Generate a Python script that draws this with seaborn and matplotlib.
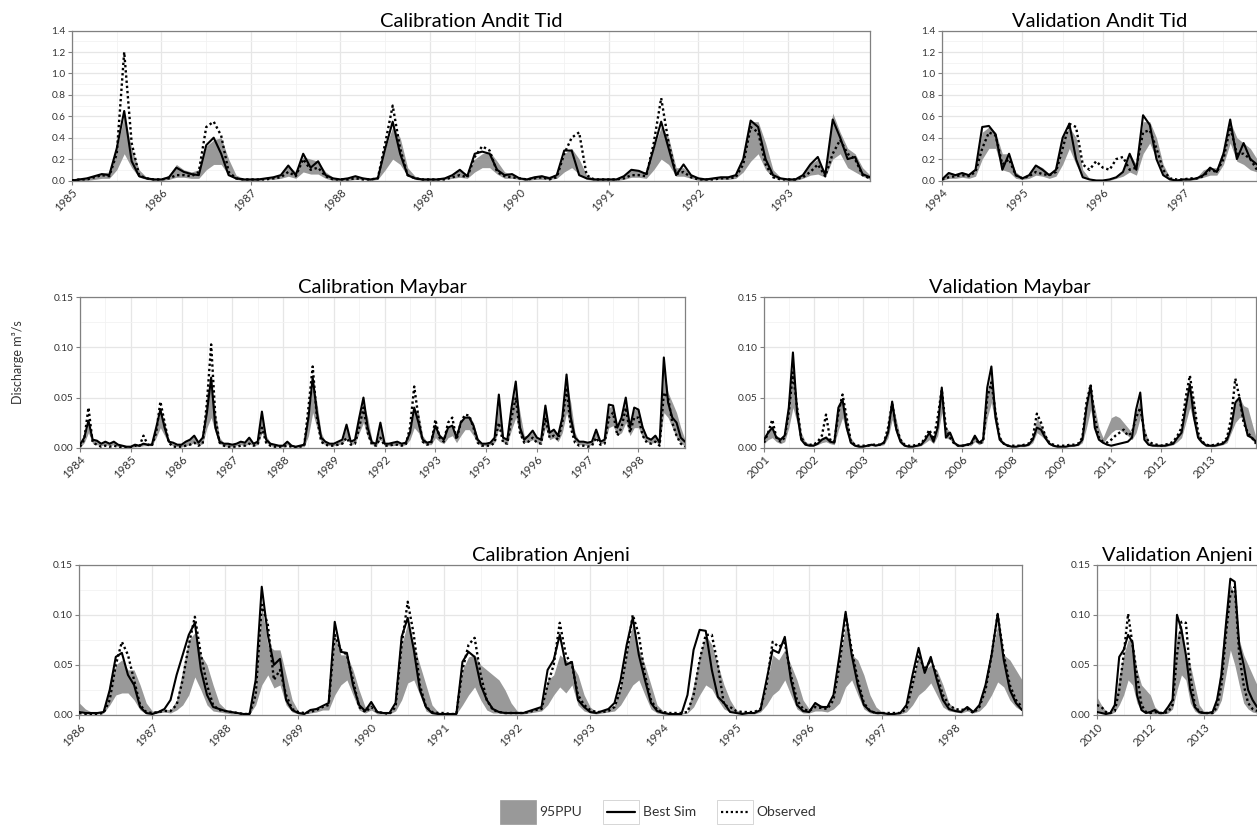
import numpy as np
import matplotlib
matplotlib.use("Agg")
import matplotlib.pyplot as plt
import seaborn as sns
from matplotlib.patches import Rectangle
from matplotlib.lines import Line2D
from matplotlib.legend_handler import HandlerBase
from matplotlib.ticker import MultipleLocator, FixedLocator, FormatStrFormatter

# ---------------- DATA (monthly discharge, m3/s) ----------------
# Calibration Andit Tid (1985-1993)
cal_andit_labels = ['1985', '1986', '1987', '1988', '1989', '1990', '1991', '1992', '1993']
cal_andit_sim = [
    0.00, 0.01, 0.02, 0.04, 0.06, 0.05, 0.30, 0.65, 0.18, 0.04, 0.02, 0.01,
    0.01, 0.03, 0.12, 0.08, 0.06, 0.05, 0.33, 0.40, 0.25, 0.05, 0.02, 0.01,
    0.01, 0.01, 0.02, 0.03, 0.05, 0.14, 0.05, 0.25, 0.12, 0.18, 0.05, 0.02,
    0.01, 0.02, 0.04, 0.02, 0.01, 0.02, 0.30, 0.55, 0.25, 0.05, 0.02, 0.01,
    0.01, 0.01, 0.02, 0.05, 0.10, 0.04, 0.25, 0.27, 0.25, 0.10, 0.05, 0.06,
    0.02, 0.01, 0.03, 0.04, 0.02, 0.05, 0.28, 0.28, 0.05, 0.02, 0.01, 0.01,
    0.01, 0.01, 0.04, 0.10, 0.09, 0.06, 0.30, 0.55, 0.30, 0.05, 0.15, 0.05,
    0.02, 0.01, 0.02, 0.03, 0.03, 0.05, 0.20, 0.56, 0.50, 0.20, 0.05, 0.02,
    0.01, 0.01, 0.05, 0.15, 0.22, 0.05, 0.57, 0.40, 0.20, 0.22, 0.06, 0.03]
cal_andit_obs = [
    0.00, 0.01, 0.01, 0.03, 0.05, 0.04, 0.25, 1.20, 0.35, 0.05, 0.02, 0.01,
    0.01, 0.02, 0.05, 0.05, 0.04, 0.08, 0.50, 0.55, 0.42, 0.08, 0.02, 0.01,
    0.01, 0.01, 0.01, 0.02, 0.03, 0.08, 0.04, 0.20, 0.10, 0.12, 0.04, 0.01,
    0.01, 0.01, 0.02, 0.01, 0.01, 0.02, 0.35, 0.70, 0.30, 0.05, 0.02, 0.01,
    0.01, 0.01, 0.01, 0.03, 0.05, 0.03, 0.22, 0.32, 0.28, 0.08, 0.04, 0.03,
    0.02, 0.01, 0.02, 0.03, 0.01, 0.03, 0.25, 0.40, 0.45, 0.05, 0.01, 0.01,
    0.01, 0.01, 0.02, 0.05, 0.05, 0.04, 0.35, 0.77, 0.35, 0.06, 0.08, 0.03,
    0.01, 0.01, 0.01, 0.02, 0.02, 0.03, 0.15, 0.50, 0.45, 0.15, 0.03, 0.01,
    0.01, 0.01, 0.03, 0.08, 0.15, 0.04, 0.25, 0.38, 0.25, 0.20, 0.05, 0.02]
cal_andit_low = [
    0.00, 0.00, 0.00, 0.01, 0.02, 0.02, 0.10, 0.25, 0.12, 0.03, 0.01, 0.00,
    0.00, 0.01, 0.03, 0.03, 0.02, 0.02, 0.10, 0.15, 0.15, 0.05, 0.01, 0.00,
    0.00, 0.00, 0.01, 0.01, 0.02, 0.04, 0.02, 0.08, 0.06, 0.06, 0.02, 0.00,
    0.00, 0.00, 0.01, 0.01, 0.00, 0.01, 0.10, 0.20, 0.15, 0.04, 0.01, 0.00,
    0.00, 0.00, 0.01, 0.02, 0.03, 0.02, 0.08, 0.12, 0.12, 0.06, 0.02, 0.02,
    0.01, 0.00, 0.01, 0.01, 0.01, 0.02, 0.08, 0.12, 0.06, 0.01, 0.00, 0.00,
    0.00, 0.00, 0.01, 0.03, 0.03, 0.02, 0.10, 0.20, 0.15, 0.04, 0.04, 0.02,
    0.00, 0.00, 0.01, 0.01, 0.01, 0.02, 0.08, 0.18, 0.25, 0.10, 0.03, 0.01,
    0.00, 0.00, 0.02, 0.05, 0.06, 0.03, 0.20, 0.25, 0.12, 0.08, 0.04, 0.01]
cal_andit_up = [
    0.01, 0.02, 0.03, 0.05, 0.07, 0.08, 0.30, 0.60, 0.30, 0.10, 0.03, 0.02,
    0.02, 0.05, 0.15, 0.10, 0.08, 0.10, 0.32, 0.38, 0.40, 0.20, 0.05, 0.02,
    0.01, 0.02, 0.03, 0.04, 0.06, 0.14, 0.08, 0.22, 0.20, 0.18, 0.08, 0.03,
    0.01, 0.02, 0.04, 0.03, 0.02, 0.04, 0.30, 0.50, 0.40, 0.12, 0.04, 0.02,
    0.01, 0.02, 0.03, 0.06, 0.10, 0.06, 0.20, 0.25, 0.27, 0.18, 0.08, 0.06,
    0.03, 0.02, 0.04, 0.05, 0.04, 0.06, 0.25, 0.30, 0.20, 0.05, 0.02, 0.02,
    0.02, 0.02, 0.05, 0.10, 0.09, 0.08, 0.30, 0.50, 0.40, 0.12, 0.12, 0.05,
    0.02, 0.02, 0.03, 0.04, 0.04, 0.06, 0.20, 0.55, 0.55, 0.35, 0.10, 0.03,
    0.02, 0.02, 0.06, 0.15, 0.20, 0.08, 0.63, 0.45, 0.30, 0.25, 0.12, 0.05]

# Validation Andit Tid (1994-1997)
val_andit_labels = ['1994', '1995', '1996', '1997']
val_andit_sim = [
    0.01, 0.07, 0.05, 0.07, 0.05, 0.10, 0.50, 0.51, 0.43, 0.10, 0.25, 0.05,
    0.02, 0.05, 0.14, 0.10, 0.05, 0.10, 0.40, 0.53, 0.20, 0.03, 0.01, 0.00,
    0.00, 0.01, 0.03, 0.08, 0.25, 0.10, 0.61, 0.52, 0.20, 0.05, 0.01, 0.00,
    0.01, 0.01, 0.02, 0.05, 0.12, 0.08, 0.25, 0.57, 0.20, 0.35, 0.20, 0.15]
val_andit_obs = [
    0.01, 0.03, 0.04, 0.05, 0.04, 0.08, 0.30, 0.45, 0.42, 0.15, 0.20, 0.05,
    0.02, 0.04, 0.08, 0.06, 0.05, 0.08, 0.30, 0.53, 0.50, 0.15, 0.10, 0.18,
    0.12, 0.10, 0.20, 0.22, 0.10, 0.12, 0.45, 0.47, 0.30, 0.10, 0.02, 0.01,
    0.01, 0.02, 0.02, 0.04, 0.10, 0.08, 0.20, 0.50, 0.25, 0.25, 0.20, 0.10]
val_andit_low = [
    0.00, 0.02, 0.02, 0.03, 0.02, 0.04, 0.20, 0.30, 0.30, 0.10, 0.08, 0.02,
    0.01, 0.02, 0.05, 0.04, 0.02, 0.04, 0.15, 0.30, 0.15, 0.03, 0.01, 0.00,
    0.00, 0.00, 0.02, 0.04, 0.08, 0.05, 0.25, 0.35, 0.20, 0.06, 0.01, 0.00,
    0.00, 0.00, 0.01, 0.03, 0.05, 0.05, 0.15, 0.35, 0.18, 0.15, 0.10, 0.08]
val_andit_up = [
    0.02, 0.08, 0.06, 0.08, 0.06, 0.12, 0.45, 0.50, 0.45, 0.25, 0.25, 0.08,
    0.03, 0.06, 0.15, 0.12, 0.06, 0.12, 0.40, 0.50, 0.40, 0.10, 0.02, 0.01,
    0.01, 0.02, 0.04, 0.10, 0.25, 0.15, 0.55, 0.55, 0.40, 0.15, 0.03, 0.01,
    0.01, 0.02, 0.03, 0.10, 0.12, 0.12, 0.30, 0.55, 0.40, 0.35, 0.30, 0.20]

# Calibration Maybar
cal_maybar_labels = ['1984', '1985', '1986', '1987', '1988', '1989',
                     '1992', '1993', '1995', '1996', '1997', '1998']
cal_maybar_sim = [
    0.003, 0.010, 0.027, 0.008, 0.007, 0.004, 0.006, 0.004, 0.006, 0.003, 0.002, 0.001,
    0.001, 0.003, 0.002, 0.004, 0.003, 0.003, 0.020, 0.038, 0.020, 0.006, 0.005, 0.003,
    0.003, 0.006, 0.008, 0.012, 0.005, 0.010, 0.035, 0.070, 0.020, 0.006, 0.004, 0.004,
    0.003, 0.004, 0.006, 0.005, 0.010, 0.004, 0.006, 0.036, 0.008, 0.004, 0.003, 0.002,
    0.002, 0.006, 0.002, 0.001, 0.002, 0.003, 0.030, 0.070, 0.035, 0.010, 0.006, 0.004,
    0.004, 0.006, 0.008, 0.023, 0.006, 0.008, 0.030, 0.050, 0.020, 0.005, 0.004, 0.025,
    0.004, 0.004, 0.005, 0.006, 0.004, 0.005, 0.015, 0.040, 0.025, 0.008, 0.005, 0.006,
    0.022, 0.012, 0.008, 0.020, 0.022, 0.010, 0.025, 0.030, 0.030, 0.022, 0.008, 0.004,
    0.004, 0.005, 0.010, 0.053, 0.010, 0.008, 0.040, 0.066, 0.020, 0.008, 0.012, 0.017,
    0.010, 0.008, 0.042, 0.015, 0.018, 0.012, 0.030, 0.073, 0.030, 0.010, 0.006, 0.006,
    0.005, 0.006, 0.018, 0.006, 0.008, 0.043, 0.042, 0.020, 0.030, 0.050, 0.020, 0.040,
    0.038, 0.020, 0.010, 0.008, 0.012, 0.005, 0.090, 0.045, 0.030, 0.025, 0.010, 0.006]
cal_maybar_obs = [
    0.001, 0.008, 0.040, 0.005, 0.003, 0.001, 0.002, 0.001, 0.002, 0.001, 0.000, 0.000,
    0.000, 0.002, 0.001, 0.012, 0.003, 0.002, 0.015, 0.046, 0.025, 0.005, 0.001, 0.001,
    0.001, 0.002, 0.003, 0.005, 0.002, 0.004, 0.045, 0.103, 0.030, 0.005, 0.002, 0.001,
    0.001, 0.001, 0.002, 0.002, 0.004, 0.002, 0.003, 0.020, 0.005, 0.002, 0.001, 0.001,
    0.001, 0.002, 0.001, 0.000, 0.001, 0.002, 0.040, 0.081, 0.030, 0.006, 0.003, 0.002,
    0.002, 0.003, 0.004, 0.010, 0.003, 0.004, 0.020, 0.040, 0.015, 0.003, 0.002, 0.010,
    0.002, 0.002, 0.003, 0.003, 0.002, 0.003, 0.020, 0.061, 0.030, 0.006, 0.003, 0.004,
    0.028, 0.010, 0.006, 0.025, 0.030, 0.008, 0.025, 0.033, 0.032, 0.020, 0.005, 0.002,
    0.002, 0.002, 0.005, 0.025, 0.005, 0.004, 0.030, 0.050, 0.015, 0.005, 0.006, 0.010,
    0.005, 0.004, 0.030, 0.010, 0.012, 0.008, 0.025, 0.060, 0.020, 0.005, 0.002, 0.002,
    0.001, 0.002, 0.010, 0.003, 0.004, 0.030, 0.035, 0.012, 0.020, 0.040, 0.015, 0.030,
    0.030, 0.012, 0.005, 0.004, 0.006, 0.002, 0.055, 0.050, 0.025, 0.012, 0.004, 0.001]
cal_maybar_low = [
    0.000, 0.005, 0.015, 0.004, 0.003, 0.002, 0.003, 0.002, 0.003, 0.001, 0.001, 0.000,
    0.000, 0.001, 0.001, 0.002, 0.002, 0.002, 0.010, 0.020, 0.012, 0.004, 0.002, 0.001,
    0.001, 0.002, 0.003, 0.005, 0.002, 0.004, 0.020, 0.030, 0.015, 0.004, 0.002, 0.001,
    0.001, 0.002, 0.003, 0.002, 0.004, 0.002, 0.003, 0.015, 0.005, 0.002, 0.001, 0.001,
    0.001, 0.003, 0.001, 0.000, 0.001, 0.001, 0.012, 0.035, 0.020, 0.005, 0.003, 0.002,
    0.002, 0.003, 0.004, 0.010, 0.003, 0.004, 0.015, 0.025, 0.010, 0.003, 0.002, 0.008,
    0.002, 0.002, 0.002, 0.003, 0.002, 0.003, 0.008, 0.020, 0.015, 0.005, 0.003, 0.003,
    0.010, 0.006, 0.004, 0.010, 0.012, 0.005, 0.012, 0.018, 0.018, 0.012, 0.004, 0.002,
    0.002, 0.003, 0.005, 0.020, 0.005, 0.004, 0.018, 0.030, 0.012, 0.005, 0.006, 0.008,
    0.005, 0.004, 0.020, 0.008, 0.010, 0.006, 0.015, 0.035, 0.018, 0.006, 0.003, 0.003,
    0.002, 0.003, 0.010, 0.004, 0.005, 0.020, 0.022, 0.012, 0.015, 0.025, 0.012, 0.020,
    0.020, 0.010, 0.006, 0.004, 0.006, 0.003, 0.035, 0.030, 0.020, 0.010, 0.004, 0.002]
cal_maybar_up = [
    0.003, 0.010, 0.025, 0.008, 0.007, 0.005, 0.006, 0.005, 0.006, 0.003, 0.002, 0.002,
    0.002, 0.003, 0.003, 0.005, 0.004, 0.004, 0.022, 0.035, 0.025, 0.008, 0.004, 0.004,
    0.003, 0.006, 0.008, 0.012, 0.006, 0.010, 0.055, 0.065, 0.035, 0.010, 0.005, 0.004,
    0.003, 0.004, 0.006, 0.005, 0.010, 0.005, 0.006, 0.034, 0.012, 0.005, 0.003, 0.002,
    0.002, 0.006, 0.003, 0.002, 0.002, 0.003, 0.030, 0.065, 0.045, 0.015, 0.006, 0.004,
    0.004, 0.006, 0.008, 0.022, 0.006, 0.008, 0.030, 0.045, 0.030, 0.008, 0.004, 0.022,
    0.004, 0.004, 0.005, 0.006, 0.004, 0.005, 0.015, 0.038, 0.035, 0.012, 0.006, 0.006,
    0.022, 0.012, 0.008, 0.020, 0.022, 0.010, 0.025, 0.030, 0.032, 0.025, 0.010, 0.004,
    0.004, 0.005, 0.010, 0.045, 0.012, 0.008, 0.040, 0.060, 0.035, 0.012, 0.012, 0.016,
    0.010, 0.008, 0.040, 0.016, 0.018, 0.012, 0.030, 0.065, 0.045, 0.015, 0.006, 0.006,
    0.005, 0.006, 0.018, 0.006, 0.008, 0.040, 0.042, 0.022, 0.030, 0.045, 0.025, 0.038,
    0.038, 0.022, 0.010, 0.008, 0.012, 0.005, 0.080, 0.055, 0.045, 0.035, 0.020, 0.008]

# Validation Maybar
val_maybar_labels = ['2001', '2002', '2003', '2004', '2006', '2008', '2009', '2011', '2012', '2013']
val_maybar_sim = [
    0.008, 0.015, 0.020, 0.010, 0.008, 0.012, 0.040, 0.095, 0.035, 0.008, 0.003, 0.002,
    0.002, 0.004, 0.008, 0.010, 0.006, 0.005, 0.040, 0.048, 0.020, 0.005, 0.002, 0.001,
    0.001, 0.002, 0.003, 0.002, 0.003, 0.005, 0.015, 0.046, 0.018, 0.006, 0.002, 0.001,
    0.001, 0.002, 0.003, 0.008, 0.015, 0.006, 0.020, 0.060, 0.010, 0.015, 0.005, 0.002,
    0.002, 0.003, 0.004, 0.012, 0.005, 0.008, 0.060, 0.081, 0.030, 0.008, 0.004, 0.002,
    0.001, 0.001, 0.002, 0.002, 0.003, 0.008, 0.020, 0.018, 0.010, 0.004, 0.002, 0.001,
    0.001, 0.001, 0.002, 0.002, 0.003, 0.008, 0.040, 0.062, 0.020, 0.008, 0.005, 0.003,
    0.002, 0.003, 0.004, 0.005, 0.006, 0.010, 0.038, 0.055, 0.008, 0.003, 0.002, 0.002,
    0.002, 0.002, 0.003, 0.004, 0.010, 0.015, 0.040, 0.063, 0.030, 0.010, 0.005, 0.002,
    0.002, 0.002, 0.003, 0.004, 0.008, 0.020, 0.045, 0.050, 0.030, 0.012, 0.010, 0.006]
val_maybar_obs = [
    0.005, 0.015, 0.028, 0.010, 0.006, 0.010, 0.035, 0.075, 0.040, 0.010, 0.004, 0.003,
    0.003, 0.006, 0.012, 0.033, 0.008, 0.006, 0.035, 0.053, 0.030, 0.006, 0.003, 0.002,
    0.002, 0.002, 0.003, 0.003, 0.003, 0.005, 0.020, 0.044, 0.020, 0.008, 0.003, 0.002,
    0.002, 0.003, 0.004, 0.010, 0.018, 0.008, 0.030, 0.058, 0.020, 0.010, 0.004, 0.002,
    0.002, 0.003, 0.003, 0.010, 0.004, 0.006, 0.050, 0.065, 0.035, 0.010, 0.004, 0.002,
    0.002, 0.002, 0.002, 0.003, 0.004, 0.010, 0.034, 0.025, 0.012, 0.005, 0.003, 0.002,
    0.002, 0.002, 0.003, 0.003, 0.004, 0.010, 0.045, 0.063, 0.030, 0.010, 0.006, 0.005,
    0.008, 0.012, 0.015, 0.018, 0.012, 0.015, 0.030, 0.040, 0.015, 0.006, 0.004, 0.003,
    0.002, 0.003, 0.004, 0.006, 0.012, 0.020, 0.050, 0.072, 0.045, 0.015, 0.006, 0.003,
    0.002, 0.003, 0.004, 0.005, 0.010, 0.030, 0.069, 0.050, 0.025, 0.015, 0.010, 0.004]
val_maybar_low = [
    0.004, 0.008, 0.010, 0.006, 0.004, 0.006, 0.020, 0.040, 0.025, 0.008, 0.003, 0.002,
    0.002, 0.003, 0.005, 0.006, 0.004, 0.003, 0.018, 0.030, 0.015, 0.004, 0.002, 0.001,
    0.001, 0.001, 0.002, 0.002, 0.002, 0.003, 0.010, 0.028, 0.014, 0.004, 0.002, 0.001,
    0.001, 0.001, 0.002, 0.005, 0.008, 0.004, 0.012, 0.035, 0.010, 0.008, 0.003, 0.001,
    0.001, 0.002, 0.002, 0.006, 0.003, 0.005, 0.030, 0.045, 0.022, 0.006, 0.003, 0.001,
    0.001, 0.001, 0.001, 0.001, 0.002, 0.005, 0.015, 0.012, 0.008, 0.003, 0.001, 0.001,
    0.001, 0.001, 0.001, 0.002, 0.002, 0.005, 0.020, 0.038, 0.020, 0.008, 0.004, 0.010,
    0.015, 0.018, 0.018, 0.015, 0.012, 0.008, 0.015, 0.030, 0.010, 0.003, 0.002, 0.001,
    0.001, 0.001, 0.002, 0.003, 0.006, 0.010, 0.025, 0.040, 0.025, 0.008, 0.004, 0.002,
    0.001, 0.001, 0.002, 0.003, 0.005, 0.015, 0.025, 0.030, 0.030, 0.012, 0.008, 0.004]
val_maybar_up = [
    0.010, 0.016, 0.020, 0.012, 0.010, 0.014, 0.040, 0.085, 0.045, 0.015, 0.006, 0.004,
    0.004, 0.006, 0.010, 0.012, 0.008, 0.007, 0.040, 0.048, 0.030, 0.010, 0.004, 0.002,
    0.002, 0.003, 0.004, 0.004, 0.004, 0.006, 0.018, 0.044, 0.028, 0.010, 0.004, 0.002,
    0.002, 0.003, 0.004, 0.010, 0.016, 0.008, 0.022, 0.056, 0.020, 0.016, 0.006, 0.003,
    0.003, 0.004, 0.005, 0.012, 0.006, 0.010, 0.055, 0.075, 0.040, 0.012, 0.005, 0.003,
    0.002, 0.002, 0.003, 0.003, 0.004, 0.010, 0.030, 0.022, 0.014, 0.006, 0.003, 0.002,
    0.002, 0.002, 0.003, 0.003, 0.004, 0.010, 0.040, 0.060, 0.040, 0.020, 0.010, 0.020,
    0.030, 0.032, 0.030, 0.025, 0.020, 0.015, 0.035, 0.050, 0.020, 0.006, 0.004, 0.003,
    0.003, 0.003, 0.004, 0.006, 0.012, 0.018, 0.040, 0.060, 0.045, 0.015, 0.007, 0.004,
    0.003, 0.003, 0.004, 0.006, 0.010, 0.025, 0.045, 0.050, 0.042, 0.040, 0.025, 0.010]

# Calibration Anjeni
cal_anjeni_labels = ['1986', '1987', '1988', '1989', '1990', '1991', '1992',
                     '1993', '1994', '1995', '1996', '1997', '1998']
cal_anjeni_sim = [
    0.003, 0.002, 0.002, 0.002, 0.003, 0.025, 0.058, 0.062, 0.040, 0.030, 0.008, 0.002,
    0.001, 0.003, 0.006, 0.015, 0.040, 0.060, 0.080, 0.092, 0.045, 0.020, 0.008, 0.006,
    0.004, 0.003, 0.002, 0.001, 0.001, 0.035, 0.128, 0.080, 0.050, 0.056, 0.015, 0.005,
    0.002, 0.001, 0.005, 0.006, 0.009, 0.012, 0.093, 0.063, 0.062, 0.030, 0.010, 0.004,
    0.013, 0.003, 0.002, 0.002, 0.012, 0.078, 0.097, 0.065, 0.025, 0.008, 0.002, 0.001,
    0.001, 0.001, 0.001, 0.053, 0.063, 0.058, 0.030, 0.015, 0.006, 0.003, 0.002, 0.002,
    0.002, 0.002, 0.004, 0.006, 0.008, 0.045, 0.055, 0.080, 0.050, 0.053, 0.015, 0.008,
    0.003, 0.002, 0.004, 0.006, 0.012, 0.035, 0.070, 0.097, 0.060, 0.035, 0.012, 0.004,
    0.002, 0.001, 0.001, 0.001, 0.020, 0.065, 0.085, 0.084, 0.045, 0.018, 0.012, 0.003,
    0.002, 0.001, 0.002, 0.002, 0.005, 0.035, 0.065, 0.062, 0.078, 0.035, 0.010, 0.004,
    0.003, 0.012, 0.008, 0.008, 0.020, 0.060, 0.103, 0.060, 0.030, 0.010, 0.004, 0.002,
    0.002, 0.001, 0.001, 0.002, 0.010, 0.040, 0.067, 0.042, 0.058, 0.035, 0.015, 0.006,
    0.004, 0.003, 0.008, 0.003, 0.010, 0.030, 0.060, 0.101, 0.055, 0.025, 0.012, 0.005]
cal_anjeni_obs = [
    0.002, 0.001, 0.001, 0.001, 0.002, 0.015, 0.050, 0.073, 0.060, 0.035, 0.010, 0.003,
    0.002, 0.003, 0.004, 0.004, 0.010, 0.035, 0.070, 0.098, 0.060, 0.030, 0.010, 0.005,
    0.004, 0.003, 0.002, 0.001, 0.001, 0.020, 0.110, 0.090, 0.035, 0.045, 0.020, 0.006,
    0.003, 0.002, 0.003, 0.005, 0.008, 0.010, 0.080, 0.065, 0.060, 0.035, 0.008, 0.003,
    0.008, 0.003, 0.002, 0.001, 0.008, 0.070, 0.113, 0.080, 0.030, 0.008, 0.003, 0.002,
    0.002, 0.001, 0.001, 0.045, 0.070, 0.077, 0.040, 0.015, 0.005, 0.003, 0.002, 0.002,
    0.002, 0.002, 0.003, 0.005, 0.006, 0.030, 0.050, 0.092, 0.060, 0.050, 0.020, 0.010,
    0.005, 0.003, 0.003, 0.004, 0.008, 0.025, 0.060, 0.100, 0.080, 0.040, 0.015, 0.005,
    0.003, 0.002, 0.002, 0.002, 0.003, 0.020, 0.055, 0.080, 0.080, 0.050, 0.010, 0.008,
    0.004, 0.003, 0.003, 0.003, 0.006, 0.030, 0.073, 0.068, 0.072, 0.040, 0.015, 0.006,
    0.004, 0.008, 0.007, 0.006, 0.015, 0.050, 0.100, 0.065, 0.035, 0.012, 0.004, 0.002,
    0.002, 0.002, 0.002, 0.002, 0.006, 0.030, 0.060, 0.045, 0.055, 0.040, 0.020, 0.010,
    0.006, 0.005, 0.006, 0.002, 0.008, 0.025, 0.060, 0.100, 0.060, 0.030, 0.015, 0.008]
cal_anjeni_low = [
    0.005, 0.001, 0.001, 0.001, 0.002, 0.010, 0.020, 0.022, 0.022, 0.015, 0.005, 0.001,
    0.001, 0.002, 0.003, 0.002, 0.005, 0.010, 0.020, 0.038, 0.025, 0.010, 0.004, 0.003,
    0.002, 0.001, 0.001, 0.001, 0.001, 0.010, 0.030, 0.040, 0.027, 0.030, 0.010, 0.003,
    0.001, 0.001, 0.002, 0.003, 0.005, 0.005, 0.020, 0.030, 0.035, 0.020, 0.005, 0.002,
    0.005, 0.001, 0.001, 0.001, 0.004, 0.015, 0.032, 0.035, 0.020, 0.004, 0.001, 0.001,
    0.001, 0.001, 0.001, 0.010, 0.020, 0.028, 0.015, 0.005, 0.002, 0.002, 0.001, 0.001,
    0.001, 0.001, 0.002, 0.003, 0.004, 0.010, 0.020, 0.028, 0.022, 0.030, 0.010, 0.004,
    0.002, 0.001, 0.002, 0.003, 0.004, 0.010, 0.020, 0.030, 0.035, 0.020, 0.006, 0.002,
    0.001, 0.001, 0.001, 0.001, 0.002, 0.008, 0.020, 0.030, 0.026, 0.015, 0.006, 0.003,
    0.002, 0.001, 0.001, 0.001, 0.003, 0.010, 0.020, 0.025, 0.035, 0.020, 0.006, 0.002,
    0.002, 0.004, 0.004, 0.003, 0.006, 0.012, 0.028, 0.035, 0.020, 0.006, 0.002, 0.001,
    0.001, 0.001, 0.001, 0.001, 0.003, 0.010, 0.020, 0.025, 0.032, 0.020, 0.008, 0.004,
    0.003, 0.002, 0.004, 0.002, 0.004, 0.010, 0.020, 0.033, 0.028, 0.015, 0.008, 0.004]
cal_anjeni_up = [
    0.012, 0.006, 0.003, 0.002, 0.004, 0.030, 0.050, 0.055, 0.045, 0.045, 0.030, 0.012,
    0.004, 0.004, 0.006, 0.005, 0.015, 0.045, 0.075, 0.082, 0.060, 0.050, 0.030, 0.012,
    0.006, 0.003, 0.002, 0.002, 0.002, 0.030, 0.110, 0.070, 0.065, 0.065, 0.040, 0.015,
    0.004, 0.002, 0.005, 0.006, 0.008, 0.012, 0.080, 0.060, 0.060, 0.045, 0.025, 0.008,
    0.012, 0.004, 0.002, 0.002, 0.010, 0.070, 0.092, 0.070, 0.050, 0.030, 0.010, 0.003,
    0.002, 0.001, 0.002, 0.045, 0.058, 0.060, 0.050, 0.045, 0.040, 0.035, 0.025, 0.012,
    0.004, 0.003, 0.004, 0.006, 0.008, 0.035, 0.040, 0.060, 0.055, 0.050, 0.040, 0.020,
    0.008, 0.003, 0.004, 0.006, 0.010, 0.030, 0.065, 0.090, 0.065, 0.050, 0.030, 0.010,
    0.004, 0.002, 0.002, 0.002, 0.003, 0.030, 0.060, 0.080, 0.070, 0.050, 0.030, 0.015,
    0.005, 0.003, 0.003, 0.003, 0.006, 0.030, 0.060, 0.055, 0.065, 0.050, 0.035, 0.015,
    0.006, 0.012, 0.010, 0.008, 0.018, 0.055, 0.090, 0.060, 0.055, 0.040, 0.020, 0.008,
    0.003, 0.002, 0.002, 0.002, 0.008, 0.035, 0.060, 0.045, 0.050, 0.045, 0.030, 0.012,
    0.006, 0.005, 0.008, 0.004, 0.010, 0.030, 0.060, 0.090, 0.060, 0.055, 0.045, 0.035]

# Validation Anjeni
val_anjeni_labels = ['2010', '2012', '2013']
val_anjeni_sim = [
    0.003, 0.002, 0.001, 0.002, 0.010, 0.058, 0.065, 0.080, 0.072, 0.020, 0.005, 0.002,
    0.003, 0.005, 0.002, 0.002, 0.008, 0.015, 0.100, 0.085, 0.060, 0.025, 0.008, 0.003,
    0.002, 0.002, 0.003, 0.015, 0.040, 0.090, 0.136, 0.133, 0.070, 0.050, 0.025, 0.015,
    0.008]
val_anjeni_obs = [
    0.010, 0.008, 0.003, 0.002, 0.004, 0.025, 0.060, 0.101, 0.070, 0.040, 0.010, 0.003,
    0.002, 0.003, 0.002, 0.002, 0.003, 0.010, 0.060, 0.093, 0.092, 0.040, 0.010, 0.003,
    0.002, 0.002, 0.002, 0.008, 0.030, 0.080, 0.120, 0.128, 0.060, 0.030, 0.012, 0.006,
    0.004]
val_anjeni_low = [
    0.004, 0.002, 0.001, 0.001, 0.003, 0.010, 0.020, 0.035, 0.030, 0.012, 0.004, 0.002,
    0.001, 0.001, 0.001, 0.001, 0.002, 0.006, 0.025, 0.040, 0.035, 0.012, 0.004, 0.001,
    0.001, 0.001, 0.001, 0.005, 0.015, 0.040, 0.065, 0.050, 0.030, 0.012, 0.006, 0.003,
    0.002]
val_anjeni_up = [
    0.018, 0.010, 0.004, 0.003, 0.010, 0.040, 0.060, 0.075, 0.075, 0.045, 0.030, 0.025,
    0.020, 0.008, 0.004, 0.003, 0.008, 0.020, 0.080, 0.090, 0.060, 0.050, 0.030, 0.010,
    0.004, 0.003, 0.004, 0.015, 0.060, 0.100, 0.130, 0.120, 0.075, 0.060, 0.050, 0.040,
    0.030]

# ---------------- STYLE ----------------
sns.set_theme(style="white")
plt.rcParams['font.family'] = ['Lato', 'DejaVu Sans']

BAND = '#999999'
GRID_MAJ = '#E6E6E6'
GRID_MIN = '#F2F2F2'
BORDER = '#808080'
TXT = '#333333'
DOT = (0, (1, 1.2))

W, H = 1257, 825
fig = plt.figure(figsize=(W / 100, H / 100), dpi=100)
fig.patch.set_facecolor('white')


def add_panel(box, title, low, up, sim, obs, labels, ymax, ystep, fmt):
    L, T, R, B = box
    ax = fig.add_axes([L / W, 1 - B / H, (R - L) / W, (B - T) / H])
    n = len(sim)
    x = np.arange(n)
    ax.fill_between(x, low, up, color=BAND, lw=0, zorder=2)
    sns.lineplot(x=x, y=sim, ax=ax, color='black', lw=1.5, zorder=3)
    sns.lineplot(x=x, y=obs, ax=ax, color='black', lw=1.7, linestyle=DOT, zorder=4)
    ax.set_xlim(0, n - 1)
    ax.set_ylim(0, ymax)
    ax.xaxis.set_major_locator(FixedLocator([12 * i for i in range(len(labels))]))
    ax.set_xticklabels(labels)
    ax.xaxis.set_minor_locator(FixedLocator([12 * i + 6 for i in range(len(labels) + 1)]))
    ax.yaxis.set_major_locator(MultipleLocator(ystep))
    ax.yaxis.set_minor_locator(MultipleLocator(ystep / 2))
    ax.yaxis.set_major_formatter(FormatStrFormatter(fmt))
    ax.grid(which='major', color=GRID_MAJ, lw=0.9, zorder=0)
    ax.grid(which='minor', color=GRID_MIN, lw=0.6, zorder=0)
    ax.set_axisbelow(True)
    for s in ax.spines.values():
        s.set_color(BORDER)
        s.set_linewidth(0.9)
    ax.tick_params(axis='both', which='major', length=3, width=0.8, color=BORDER,
                   labelcolor=TXT, pad=1.5, bottom=True, left=True)
    ax.tick_params(axis='y', labelsize=7.3)
    ax.tick_params(axis='x', labelsize=8.3)
    ax.tick_params(which='minor', length=0)
    for lab in ax.get_xticklabels():
        lab.set_rotation(45)
        lab.set_ha('right')
        lab.set_rotation_mode('anchor')
    ax.set_xlabel('')
    ax.set_ylabel('')
    ax.set_title(title, fontsize=14.5, pad=3, color='black')
    return ax


add_panel((72, 30.7, 870, 180.5), 'Calibration Andit Tid', cal_andit_low, cal_andit_up,
          cal_andit_sim, cal_andit_obs, cal_andit_labels, 1.4, 0.2, '%.1f')
add_panel((942, 30.7, 1257, 180.5), 'Validation Andit Tid', val_andit_low, val_andit_up,
          val_andit_sim, val_andit_obs, val_andit_labels, 1.4, 0.2, '%.1f')
add_panel((80, 297.3, 685, 447.7), 'Calibration Maybar', cal_maybar_low, cal_maybar_up,
          cal_maybar_sim, cal_maybar_obs, cal_maybar_labels, 0.15, 0.05, '%.2f')
add_panel((764, 297.3, 1256, 447.7), 'Validation Maybar', val_maybar_low, val_maybar_up,
          val_maybar_sim, val_maybar_obs, val_maybar_labels, 0.15, 0.05, '%.2f')
add_panel((79.3, 564.7, 1022, 715), 'Calibration Anjeni', cal_anjeni_low, cal_anjeni_up,
          cal_anjeni_sim, cal_anjeni_obs, cal_anjeni_labels, 0.15, 0.05, '%.2f')
add_panel((1097, 564.7, 1257, 715), 'Validation Anjeni', val_anjeni_low, val_anjeni_up,
          val_anjeni_sim, val_anjeni_obs, val_anjeni_labels, 0.15, 0.05, '%.2f')

fig.text(18 / W, 1 - 362 / H, 'Discharge m³/s', rotation=90, ha='center', va='center',
         fontsize=9, color=TXT)


# ---------------- LEGEND ----------------
class KeyHandler(HandlerBase):
    def __init__(self, kind):
        super().__init__()
        self.kind = kind

    def create_artists(self, legend, orig_handle, xdescent, ydescent, width, height,
                       fontsize, trans):
        x0, y0 = -xdescent, -ydescent
        if self.kind == 'band':
            r = Rectangle((x0, y0), width, height, facecolor=BAND, edgecolor=BAND,
                          lw=0.5, transform=trans)
            return [r]
        r = Rectangle((x0, y0), width, height, facecolor='white', edgecolor='#D0D0D0',
                      lw=0.6, transform=trans)
        ls = '-' if self.kind == 'sim' else DOT
        ln = Line2D([x0 + 0.12 * width, x0 + 0.88 * width], [y0 + height / 2] * 2,
                    color='black', lw=1.6, linestyle=ls, transform=trans)
        return [r, ln]


h_band = Rectangle((0, 0), 1, 1)
h_sim = Line2D([], [])
h_obs = Line2D([], [], linestyle=':')
fig.legend([h_band, h_sim, h_obs], ['95PPU', 'Best Sim', 'Observed'],
           handler_map={h_band: KeyHandler('band'), h_sim: KeyHandler('sim'),
                        h_obs: KeyHandler('obs')},
           loc='center', bbox_to_anchor=(658 / W, 1 - 812 / H), ncol=3, frameon=False,
           fontsize=10, handlelength=2.6, handleheight=2.2, handletextpad=0.25,
           columnspacing=1.5, labelcolor=TXT, borderpad=0.2)

fig.savefig('out.png', dpi=100, facecolor='white')
